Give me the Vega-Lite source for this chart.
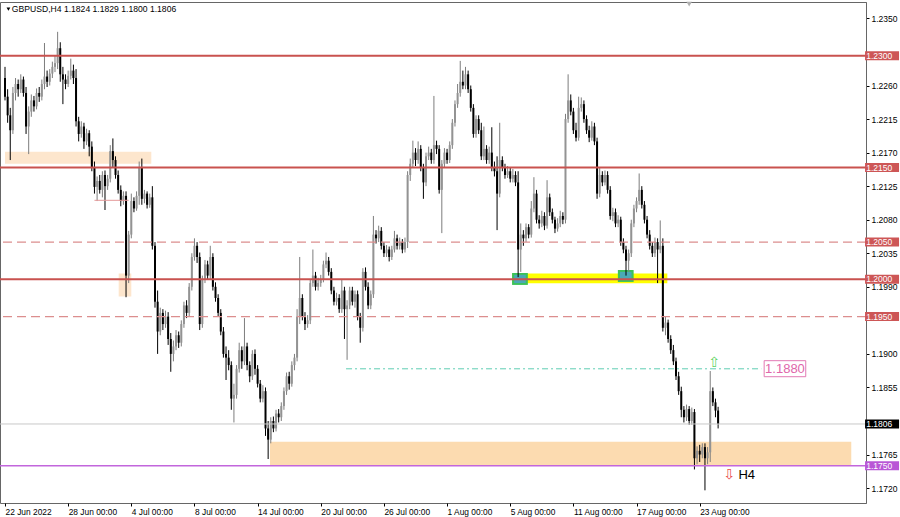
{
"$schema": "https://vega.github.io/schema/vega-lite/v6.json",
"width": 866, "height": 501,
"autosize": {"type": "none"},
"padding": {"left": 0, "top": 2, "right": 34, "bottom": 14},
"background": "#ffffff",
"config": {"view": {"stroke": "#666666", "strokeWidth": 1}, "axis": {"grid": false, "labelOverlap": false, "labelFlush": false, "labelFont": "Liberation Sans", "labelFontSize": 8.5, "labelColor": "#000000", "tickColor": "#000000", "domainColor": "#666666"}},
"datasets": {
"candles": [
{"i":0,"o":1.2270,"h":1.2285,"l":1.2240,"c":1.2245},
{"i":1,"o":1.2245,"h":1.2255,"l":1.2210,"c":1.2220},
{"i":2,"o":1.2220,"h":1.2230,"l":1.2160,"c":1.2200},
{"i":3,"o":1.2200,"h":1.2258,"l":1.2195,"c":1.2250},
{"i":4,"o":1.2250,"h":1.2270,"l":1.2240,"c":1.2262},
{"i":5,"o":1.2262,"h":1.2268,"l":1.2245,"c":1.2255},
{"i":6,"o":1.2255,"h":1.2275,"l":1.2250,"c":1.2268},
{"i":7,"o":1.2268,"h":1.2272,"l":1.2245,"c":1.2250},
{"i":8,"o":1.2250,"h":1.2258,"l":1.2195,"c":1.2205},
{"i":9,"o":1.2205,"h":1.2232,"l":1.2168,"c":1.2225},
{"i":10,"o":1.2225,"h":1.2248,"l":1.2218,"c":1.2240},
{"i":11,"o":1.2240,"h":1.2246,"l":1.2225,"c":1.2232},
{"i":12,"o":1.2232,"h":1.2256,"l":1.2228,"c":1.2250},
{"i":13,"o":1.2250,"h":1.2258,"l":1.2238,"c":1.2245},
{"i":14,"o":1.2245,"h":1.2268,"l":1.2240,"c":1.2262},
{"i":15,"o":1.2262,"h":1.2317,"l":1.2255,"c":1.2272},
{"i":16,"o":1.2272,"h":1.2280,"l":1.2258,"c":1.2265},
{"i":17,"o":1.2265,"h":1.2282,"l":1.2260,"c":1.2276},
{"i":18,"o":1.2276,"h":1.2292,"l":1.2270,"c":1.2285},
{"i":19,"o":1.2285,"h":1.2300,"l":1.2278,"c":1.2290},
{"i":20,"o":1.2290,"h":1.2332,"l":1.2282,"c":1.2310},
{"i":21,"o":1.2310,"h":1.2318,"l":1.2265,"c":1.2275},
{"i":22,"o":1.2275,"h":1.2285,"l":1.2235,"c":1.2268},
{"i":23,"o":1.2268,"h":1.2275,"l":1.2255,"c":1.2262},
{"i":24,"o":1.2262,"h":1.2280,"l":1.2258,"c":1.2273},
{"i":25,"o":1.2273,"h":1.2296,"l":1.2268,"c":1.2280},
{"i":26,"o":1.2280,"h":1.2288,"l":1.2262,"c":1.2270},
{"i":27,"o":1.2270,"h":1.2282,"l":1.2205,"c":1.2212},
{"i":28,"o":1.2212,"h":1.2218,"l":1.2185,"c":1.2195},
{"i":29,"o":1.2195,"h":1.2212,"l":1.2190,"c":1.2205},
{"i":30,"o":1.2205,"h":1.2210,"l":1.2175,"c":1.2185},
{"i":31,"o":1.2185,"h":1.2202,"l":1.2180,"c":1.2196},
{"i":32,"o":1.2196,"h":1.2200,"l":1.2165,"c":1.2178},
{"i":33,"o":1.2178,"h":1.2185,"l":1.2145,"c":1.2150},
{"i":34,"o":1.2150,"h":1.2158,"l":1.2115,"c":1.2124},
{"i":35,"o":1.2124,"h":1.2138,"l":1.2105,"c":1.2132},
{"i":36,"o":1.2132,"h":1.2140,"l":1.2115,"c":1.2120},
{"i":37,"o":1.2120,"h":1.2145,"l":1.2110,"c":1.2140},
{"i":38,"o":1.2140,"h":1.2146,"l":1.2093,"c":1.2125},
{"i":39,"o":1.2125,"h":1.2140,"l":1.2120,"c":1.2135},
{"i":40,"o":1.2135,"h":1.2180,"l":1.2130,"c":1.2172},
{"i":41,"o":1.2172,"h":1.2189,"l":1.2150,"c":1.2160},
{"i":42,"o":1.2160,"h":1.2165,"l":1.2135,"c":1.2140},
{"i":43,"o":1.2140,"h":1.2146,"l":1.2115,"c":1.2120},
{"i":44,"o":1.2120,"h":1.2126,"l":1.2098,"c":1.2105},
{"i":45,"o":1.2105,"h":1.2118,"l":1.2100,"c":1.2112},
{"i":46,"o":1.2112,"h":1.2118,"l":1.1976,"c":1.2005},
{"i":47,"o":1.2005,"h":1.2065,"l":1.1995,"c":1.2060},
{"i":48,"o":1.2060,"h":1.2115,"l":1.2055,"c":1.2105},
{"i":49,"o":1.2105,"h":1.2110,"l":1.2090,"c":1.2095},
{"i":50,"o":1.2095,"h":1.2118,"l":1.2092,"c":1.2112},
{"i":51,"o":1.2112,"h":1.2158,"l":1.2100,"c":1.2150},
{"i":52,"o":1.2150,"h":1.2162,"l":1.2100,"c":1.2108},
{"i":53,"o":1.2108,"h":1.2120,"l":1.2102,"c":1.2115},
{"i":54,"o":1.2115,"h":1.2118,"l":1.2095,"c":1.2100},
{"i":55,"o":1.2100,"h":1.2115,"l":1.2096,"c":1.2110},
{"i":56,"o":1.2110,"h":1.2125,"l":1.2040,"c":1.2045},
{"i":57,"o":1.2045,"h":1.2050,"l":1.1962,"c":1.1970},
{"i":58,"o":1.1970,"h":1.1985,"l":1.1900,"c":1.1930},
{"i":59,"o":1.1930,"h":1.1962,"l":1.1925,"c":1.1955},
{"i":60,"o":1.1955,"h":1.1960,"l":1.1932,"c":1.1940},
{"i":61,"o":1.1940,"h":1.1958,"l":1.1935,"c":1.1950},
{"i":62,"o":1.1950,"h":1.1956,"l":1.1912,"c":1.1920},
{"i":63,"o":1.1920,"h":1.1928,"l":1.1876,"c":1.1900},
{"i":64,"o":1.1900,"h":1.1918,"l":1.1890,"c":1.1910},
{"i":65,"o":1.1910,"h":1.1932,"l":1.1905,"c":1.1925},
{"i":66,"o":1.1925,"h":1.1930,"l":1.1908,"c":1.1915},
{"i":67,"o":1.1915,"h":1.1945,"l":1.1910,"c":1.1940},
{"i":68,"o":1.1940,"h":1.1970,"l":1.1935,"c":1.1965},
{"i":69,"o":1.1965,"h":1.1972,"l":1.1948,"c":1.1955},
{"i":70,"o":1.1955,"h":1.1995,"l":1.1950,"c":1.1990},
{"i":71,"o":1.1990,"h":1.2035,"l":1.1985,"c":1.2030},
{"i":72,"o":1.2030,"h":1.2055,"l":1.2025,"c":1.2045},
{"i":73,"o":1.2045,"h":1.2050,"l":1.2022,"c":1.2030},
{"i":74,"o":1.2030,"h":1.2036,"l":1.1932,"c":1.1940},
{"i":75,"o":1.1940,"h":1.2005,"l":1.1935,"c":1.2000},
{"i":76,"o":1.2000,"h":1.2026,"l":1.1995,"c":1.2020},
{"i":77,"o":1.2020,"h":1.2025,"l":1.2000,"c":1.2005},
{"i":78,"o":1.2005,"h":1.2045,"l":1.2000,"c":1.2030},
{"i":79,"o":1.2030,"h":1.2035,"l":1.1985,"c":1.1990},
{"i":80,"o":1.1990,"h":1.1996,"l":1.1970,"c":1.1975},
{"i":81,"o":1.1975,"h":1.1980,"l":1.1950,"c":1.1955},
{"i":82,"o":1.1955,"h":1.1960,"l":1.1925,"c":1.1930},
{"i":83,"o":1.1930,"h":1.1936,"l":1.1895,"c":1.1900},
{"i":84,"o":1.1900,"h":1.1910,"l":1.1865,"c":1.1895},
{"i":85,"o":1.1895,"h":1.1905,"l":1.1878,"c":1.1885},
{"i":86,"o":1.1885,"h":1.1890,"l":1.1825,"c":1.1840},
{"i":87,"o":1.1840,"h":1.1860,"l":1.1808,"c":1.1845},
{"i":88,"o":1.1845,"h":1.1885,"l":1.1840,"c":1.1880},
{"i":89,"o":1.1880,"h":1.1915,"l":1.1875,"c":1.1905},
{"i":90,"o":1.1905,"h":1.1910,"l":1.1880,"c":1.1890},
{"i":91,"o":1.1890,"h":1.1948,"l":1.1885,"c":1.1910},
{"i":92,"o":1.1910,"h":1.1915,"l":1.1878,"c":1.1885},
{"i":93,"o":1.1885,"h":1.1890,"l":1.1862,"c":1.1870},
{"i":94,"o":1.1870,"h":1.1905,"l":1.1865,"c":1.1900},
{"i":95,"o":1.1900,"h":1.1906,"l":1.1872,"c":1.1880},
{"i":96,"o":1.1880,"h":1.1885,"l":1.1855,"c":1.1860},
{"i":97,"o":1.1860,"h":1.1865,"l":1.1835,"c":1.1840},
{"i":98,"o":1.1840,"h":1.1858,"l":1.1835,"c":1.1850},
{"i":99,"o":1.1850,"h":1.1855,"l":1.1790,"c":1.1800},
{"i":100,"o":1.1800,"h":1.1810,"l":1.1759,"c":1.1785},
{"i":101,"o":1.1785,"h":1.1815,"l":1.1780,"c":1.1810},
{"i":102,"o":1.1810,"h":1.1816,"l":1.1795,"c":1.1800},
{"i":103,"o":1.1800,"h":1.1825,"l":1.1796,"c":1.1820},
{"i":104,"o":1.1820,"h":1.1826,"l":1.1808,"c":1.1815},
{"i":105,"o":1.1815,"h":1.1835,"l":1.1810,"c":1.1830},
{"i":106,"o":1.1830,"h":1.1855,"l":1.1825,"c":1.1850},
{"i":107,"o":1.1850,"h":1.1875,"l":1.1845,"c":1.1870},
{"i":108,"o":1.1870,"h":1.1876,"l":1.1852,"c":1.1860},
{"i":109,"o":1.1860,"h":1.1890,"l":1.1856,"c":1.1885},
{"i":110,"o":1.1885,"h":1.1900,"l":1.1878,"c":1.1895},
{"i":111,"o":1.1895,"h":1.1960,"l":1.1890,"c":1.1950},
{"i":112,"o":1.1950,"h":1.2030,"l":1.1940,"c":1.1975},
{"i":113,"o":1.1975,"h":1.1980,"l":1.1945,"c":1.1950},
{"i":114,"o":1.1950,"h":1.1956,"l":1.1932,"c":1.1940},
{"i":115,"o":1.1940,"h":1.1952,"l":1.1935,"c":1.1945},
{"i":116,"o":1.1945,"h":1.2000,"l":1.1940,"c":1.1995},
{"i":117,"o":1.1995,"h":1.2040,"l":1.1990,"c":1.2005},
{"i":118,"o":1.2005,"h":1.2010,"l":1.1985,"c":1.1990},
{"i":119,"o":1.1990,"h":1.2002,"l":1.1985,"c":1.1995},
{"i":120,"o":1.1995,"h":1.2006,"l":1.1990,"c":1.2000},
{"i":121,"o":1.2000,"h":1.2025,"l":1.1996,"c":1.2020},
{"i":122,"o":1.2020,"h":1.2036,"l":1.2015,"c":1.2025},
{"i":123,"o":1.2025,"h":1.2030,"l":1.2005,"c":1.2010},
{"i":124,"o":1.2010,"h":1.2015,"l":1.1980,"c":1.1985},
{"i":125,"o":1.1985,"h":1.1990,"l":1.1965,"c":1.1970},
{"i":126,"o":1.1970,"h":1.1982,"l":1.1965,"c":1.1975},
{"i":127,"o":1.1975,"h":1.1980,"l":1.1955,"c":1.1960},
{"i":128,"o":1.1960,"h":1.2000,"l":1.1955,"c":1.1985},
{"i":129,"o":1.1985,"h":1.1990,"l":1.1920,"c":1.1960},
{"i":130,"o":1.1960,"h":1.1972,"l":1.1892,"c":1.1965},
{"i":131,"o":1.1965,"h":1.1990,"l":1.1960,"c":1.1985},
{"i":132,"o":1.1985,"h":1.1990,"l":1.1965,"c":1.1970},
{"i":133,"o":1.1970,"h":1.1985,"l":1.1962,"c":1.1980},
{"i":134,"o":1.1980,"h":1.1985,"l":1.1945,"c":1.1950},
{"i":135,"o":1.1950,"h":1.1955,"l":1.1915,"c":1.1935},
{"i":136,"o":1.1935,"h":1.2015,"l":1.1930,"c":1.2010},
{"i":137,"o":1.2010,"h":1.2016,"l":1.1985,"c":1.1990},
{"i":138,"o":1.1990,"h":1.1996,"l":1.1960,"c":1.1965},
{"i":139,"o":1.1965,"h":1.1985,"l":1.1960,"c":1.1980},
{"i":140,"o":1.1980,"h":1.2085,"l":1.1975,"c":1.2060},
{"i":141,"o":1.2060,"h":1.2066,"l":1.2048,"c":1.2055},
{"i":142,"o":1.2055,"h":1.2072,"l":1.2050,"c":1.2065},
{"i":143,"o":1.2065,"h":1.2070,"l":1.2040,"c":1.2045},
{"i":144,"o":1.2045,"h":1.2050,"l":1.2030,"c":1.2035},
{"i":145,"o":1.2035,"h":1.2046,"l":1.2030,"c":1.2040},
{"i":146,"o":1.2040,"h":1.2044,"l":1.2024,"c":1.2030},
{"i":147,"o":1.2030,"h":1.2045,"l":1.2026,"c":1.2040},
{"i":148,"o":1.2040,"h":1.2065,"l":1.2036,"c":1.2055},
{"i":149,"o":1.2055,"h":1.2060,"l":1.2040,"c":1.2045},
{"i":150,"o":1.2045,"h":1.2056,"l":1.2040,"c":1.2050},
{"i":151,"o":1.2050,"h":1.2054,"l":1.2035,"c":1.2040},
{"i":152,"o":1.2040,"h":1.2056,"l":1.2036,"c":1.2050},
{"i":153,"o":1.2050,"h":1.2145,"l":1.2042,"c":1.2140},
{"i":154,"o":1.2140,"h":1.2162,"l":1.2132,"c":1.2155},
{"i":155,"o":1.2155,"h":1.2186,"l":1.2150,"c":1.2170},
{"i":156,"o":1.2170,"h":1.2176,"l":1.2152,"c":1.2160},
{"i":157,"o":1.2160,"h":1.2185,"l":1.2155,"c":1.2175},
{"i":158,"o":1.2175,"h":1.2180,"l":1.2145,"c":1.2150},
{"i":159,"o":1.2150,"h":1.2155,"l":1.2108,"c":1.2130},
{"i":160,"o":1.2130,"h":1.2170,"l":1.2125,"c":1.2165},
{"i":161,"o":1.2165,"h":1.2178,"l":1.2160,"c":1.2170},
{"i":162,"o":1.2170,"h":1.2175,"l":1.2155,"c":1.2160},
{"i":163,"o":1.2160,"h":1.2246,"l":1.2155,"c":1.2180},
{"i":164,"o":1.2180,"h":1.2186,"l":1.2168,"c":1.2175},
{"i":165,"o":1.2175,"h":1.2180,"l":1.2115,"c":1.2120},
{"i":166,"o":1.2120,"h":1.2160,"l":1.2062,"c":1.2155},
{"i":167,"o":1.2155,"h":1.2176,"l":1.2150,"c":1.2170},
{"i":168,"o":1.2170,"h":1.2175,"l":1.2155,"c":1.2160},
{"i":169,"o":1.2160,"h":1.2185,"l":1.2156,"c":1.2180},
{"i":170,"o":1.2180,"h":1.2215,"l":1.2175,"c":1.2210},
{"i":171,"o":1.2210,"h":1.2240,"l":1.2205,"c":1.2235},
{"i":172,"o":1.2235,"h":1.2262,"l":1.2230,"c":1.2250},
{"i":173,"o":1.2250,"h":1.2293,"l":1.2245,"c":1.2265},
{"i":174,"o":1.2265,"h":1.2280,"l":1.2255,"c":1.2260},
{"i":175,"o":1.2260,"h":1.2285,"l":1.2255,"c":1.2275},
{"i":176,"o":1.2275,"h":1.2280,"l":1.2250,"c":1.2255},
{"i":177,"o":1.2255,"h":1.2260,"l":1.2225,"c":1.2230},
{"i":178,"o":1.2230,"h":1.2235,"l":1.2190,"c":1.2195},
{"i":179,"o":1.2195,"h":1.2220,"l":1.2190,"c":1.2215},
{"i":180,"o":1.2215,"h":1.2220,"l":1.2195,"c":1.2200},
{"i":181,"o":1.2200,"h":1.2210,"l":1.2160,"c":1.2165},
{"i":182,"o":1.2165,"h":1.2205,"l":1.2160,"c":1.2175},
{"i":183,"o":1.2175,"h":1.2180,"l":1.2155,"c":1.2160},
{"i":184,"o":1.2160,"h":1.2178,"l":1.2155,"c":1.2170},
{"i":185,"o":1.2170,"h":1.2204,"l":1.2145,"c":1.2150},
{"i":186,"o":1.2150,"h":1.2158,"l":1.2138,"c":1.2145},
{"i":187,"o":1.2145,"h":1.2165,"l":1.2066,"c":1.2115},
{"i":188,"o":1.2115,"h":1.2210,"l":1.2110,"c":1.2160},
{"i":189,"o":1.2160,"h":1.2165,"l":1.2145,"c":1.2150},
{"i":190,"o":1.2150,"h":1.2155,"l":1.2135,"c":1.2140},
{"i":191,"o":1.2140,"h":1.2152,"l":1.2136,"c":1.2145},
{"i":192,"o":1.2145,"h":1.2150,"l":1.2130,"c":1.2135},
{"i":193,"o":1.2135,"h":1.2148,"l":1.2130,"c":1.2140},
{"i":194,"o":1.2140,"h":1.2145,"l":1.2125,"c":1.2130},
{"i":195,"o":1.2130,"h":1.2145,"l":1.2003,"c":1.2040},
{"i":196,"o":1.2040,"h":1.2075,"l":1.2010,"c":1.2060},
{"i":197,"o":1.2060,"h":1.2066,"l":1.2045,"c":1.2055},
{"i":198,"o":1.2055,"h":1.2075,"l":1.2050,"c":1.2070},
{"i":199,"o":1.2070,"h":1.2074,"l":1.2055,"c":1.2060},
{"i":200,"o":1.2060,"h":1.2105,"l":1.2056,"c":1.2095},
{"i":201,"o":1.2095,"h":1.2137,"l":1.2090,"c":1.2115},
{"i":202,"o":1.2115,"h":1.2120,"l":1.2075,"c":1.2080},
{"i":203,"o":1.2080,"h":1.2086,"l":1.2068,"c":1.2075},
{"i":204,"o":1.2075,"h":1.2092,"l":1.2070,"c":1.2085},
{"i":205,"o":1.2085,"h":1.2090,"l":1.2066,"c":1.2072},
{"i":206,"o":1.2072,"h":1.2133,"l":1.2068,"c":1.2110},
{"i":207,"o":1.2110,"h":1.2115,"l":1.2085,"c":1.2090},
{"i":208,"o":1.2090,"h":1.2095,"l":1.2075,"c":1.2080},
{"i":209,"o":1.2080,"h":1.2084,"l":1.2062,"c":1.2068},
{"i":210,"o":1.2068,"h":1.2082,"l":1.2064,"c":1.2075},
{"i":211,"o":1.2075,"h":1.2092,"l":1.2070,"c":1.2085},
{"i":212,"o":1.2085,"h":1.2090,"l":1.2074,"c":1.2080},
{"i":213,"o":1.2080,"h":1.2222,"l":1.2075,"c":1.2215},
{"i":214,"o":1.2215,"h":1.2275,"l":1.2210,"c":1.2240},
{"i":215,"o":1.2240,"h":1.2248,"l":1.2220,"c":1.2225},
{"i":216,"o":1.2225,"h":1.2230,"l":1.2195,"c":1.2200},
{"i":217,"o":1.2200,"h":1.2210,"l":1.2185,"c":1.2190},
{"i":218,"o":1.2190,"h":1.2245,"l":1.2186,"c":1.2230},
{"i":219,"o":1.2230,"h":1.2244,"l":1.2225,"c":1.2235},
{"i":220,"o":1.2235,"h":1.2240,"l":1.2210,"c":1.2215},
{"i":221,"o":1.2215,"h":1.2220,"l":1.2195,"c":1.2200},
{"i":222,"o":1.2200,"h":1.2206,"l":1.2184,"c":1.2190},
{"i":223,"o":1.2190,"h":1.2212,"l":1.2186,"c":1.2205},
{"i":224,"o":1.2205,"h":1.2210,"l":1.2180,"c":1.2185},
{"i":225,"o":1.2185,"h":1.2190,"l":1.2108,"c":1.2115},
{"i":226,"o":1.2115,"h":1.2150,"l":1.2110,"c":1.2140},
{"i":227,"o":1.2140,"h":1.2145,"l":1.2125,"c":1.2130},
{"i":228,"o":1.2130,"h":1.2146,"l":1.2126,"c":1.2140},
{"i":229,"o":1.2140,"h":1.2145,"l":1.2115,"c":1.2120},
{"i":230,"o":1.2120,"h":1.2125,"l":1.2080,"c":1.2085},
{"i":231,"o":1.2085,"h":1.2096,"l":1.2078,"c":1.2090},
{"i":232,"o":1.2090,"h":1.2095,"l":1.2070,"c":1.2075},
{"i":233,"o":1.2075,"h":1.2086,"l":1.2070,"c":1.2080},
{"i":234,"o":1.2080,"h":1.2084,"l":1.2045,"c":1.2050},
{"i":235,"o":1.2050,"h":1.2055,"l":1.2035,"c":1.2040},
{"i":236,"o":1.2040,"h":1.2045,"l":1.2005,"c":1.2025},
{"i":237,"o":1.2025,"h":1.2040,"l":1.2010,"c":1.2035},
{"i":238,"o":1.2035,"h":1.2080,"l":1.2030,"c":1.2075},
{"i":239,"o":1.2075,"h":1.2100,"l":1.2070,"c":1.2095},
{"i":240,"o":1.2095,"h":1.2110,"l":1.2090,"c":1.2105},
{"i":241,"o":1.2105,"h":1.2142,"l":1.2100,"c":1.2120},
{"i":242,"o":1.2120,"h":1.2125,"l":1.2095,"c":1.2100},
{"i":243,"o":1.2100,"h":1.2105,"l":1.2075,"c":1.2080},
{"i":244,"o":1.2080,"h":1.2085,"l":1.2055,"c":1.2060},
{"i":245,"o":1.2060,"h":1.2066,"l":1.2040,"c":1.2045},
{"i":246,"o":1.2045,"h":1.2050,"l":1.2030,"c":1.2035},
{"i":247,"o":1.2035,"h":1.2056,"l":1.2030,"c":1.2050},
{"i":248,"o":1.2050,"h":1.2055,"l":1.1995,"c":1.2040},
{"i":249,"o":1.2040,"h":1.2079,"l":1.2035,"c":1.2045},
{"i":250,"o":1.2045,"h":1.2055,"l":1.1930,"c":1.1935},
{"i":251,"o":1.1935,"h":1.1950,"l":1.1925,"c":1.1942},
{"i":252,"o":1.1942,"h":1.1946,"l":1.1915,"c":1.1920},
{"i":253,"o":1.1920,"h":1.1925,"l":1.1900,"c":1.1905},
{"i":254,"o":1.1905,"h":1.1912,"l":1.1885,"c":1.1890},
{"i":255,"o":1.1890,"h":1.1895,"l":1.1865,"c":1.1870},
{"i":256,"o":1.1870,"h":1.1876,"l":1.1845,"c":1.1850},
{"i":257,"o":1.1850,"h":1.1856,"l":1.1815,"c":1.1825},
{"i":258,"o":1.1825,"h":1.1830,"l":1.1808,"c":1.1815},
{"i":259,"o":1.1815,"h":1.1832,"l":1.1810,"c":1.1826},
{"i":260,"o":1.1826,"h":1.1830,"l":1.1805,"c":1.1810},
{"i":261,"o":1.1810,"h":1.1828,"l":1.1805,"c":1.1822},
{"i":262,"o":1.1822,"h":1.1826,"l":1.1745,"c":1.1760},
{"i":263,"o":1.1760,"h":1.1776,"l":1.1752,"c":1.1770},
{"i":264,"o":1.1770,"h":1.1778,"l":1.1755,"c":1.1765},
{"i":265,"o":1.1765,"h":1.1780,"l":1.1760,"c":1.1775},
{"i":266,"o":1.1775,"h":1.1780,"l":1.1717,"c":1.1760},
{"i":267,"o":1.1760,"h":1.1775,"l":1.1752,"c":1.1768},
{"i":268,"o":1.1768,"h":1.1877,"l":1.1755,"c":1.1850},
{"i":269,"o":1.1850,"h":1.1855,"l":1.1830,"c":1.1835},
{"i":270,"o":1.1835,"h":1.1840,"l":1.1815,"c":1.1824},
{"i":271,"o":1.1824,"h":1.1829,"l":1.1800,"c":1.1806}
],
"zonesLight": [{"from":0,"to":55.6,"top":1.2171,"bottom":1.2155},{"from":43.2,"to":48.0,"top":1.2008,"bottom":1.1977}],
"zoneBig": [{"from":100.7,"to":321.6,"top":1.1782,"bottom":1.1751}],
"yellow": [{"from":192.7,"to":251.7,"top":1.2008,"bottom":1.19947}],
"squares": [{"from":192.7,"to":198.7,"top":1.20085,"bottom":1.19925},{"from":232.9,"to":238.9,"top":1.20125,"bottom":1.19965}],
"squaresInner": [{"from":193.5,"to":197.9,"top":1.2006,"bottom":1.1995},{"from":233.7,"to":238.1,"top":1.2010,"bottom":1.1999}],
"thinRed": [{"from":34,"to":47,"p":1.2106}],
"solidLevels": [{"p":1.2300},{"p":1.2150},{"p":1.2000}],
"dashedLevels": [{"p":1.2050},{"p":1.1950}],
"redBoxes": [{"p":1.2300,"t":"1.2300"},{"p":1.2150,"t":"1.2150"},{"p":1.2050,"t":"1.2050"},{"p":1.2000,"t":"1.2000"},{"p":1.1950,"t":"1.1950"}],
"purpleBox": [{"p":1.1750,"t":"1.1750"}],
"blackBox": [{"p":1.1806,"t":"1.1806"}],
"tealLine": [{"from":129.6,"to":287.4,"p":1.1880}],
"pinkBox": [{"from":288.5,"to":304.3,"top":1.18909,"bottom":1.18694,"p":1.1880,"mid":296.4,"t":"1.1880"}],
"upArrow": [{"i":269.5,"p":1.1888,"t":"⇧"}],
"downArrow": [{"i":275.2,"p":1.1738,"t":"⇩"}],
"h4": [{"i":278.7,"p":1.1738,"t":"H4"}],
"title": [{"i":2.6,"p":1.23626,"t":"GBPUSD,H4  1.1824 1.1829 1.1800 1.1806"}],
"titleTri": [{"i":1.3,"p":1.23626}],
"topTri": [{"i":260,"p":1.23690}]
},
"layer": [
{"data": {"name": "zonesLight"}, "mark": {"type": "rect", "color": "#fde6cd"},
 "encoding": {"x": {"field": "from", "type": "quantitative", "scale": {"domain": [0, 325.3], "nice": false, "zero": false}, "title": null}, "x2": {"field": "to"},
  "y": {"field": "top", "type": "quantitative", "scale": {"domain": [1.17, 1.2372], "nice": false, "zero": false}, "title": null}, "y2": {"field": "bottom"}}},
{"data": {"name": "zoneBig"}, "mark": {"type": "rect", "color": "#fcdbb0"},
 "encoding": {"x": {"field": "from", "type": "quantitative", "scale": {"domain": [0, 325.3], "nice": false, "zero": false}, "title": null}, "x2": {"field": "to"},
  "y": {"field": "top", "type": "quantitative", "scale": {"domain": [1.17, 1.2372], "nice": false, "zero": false}, "title": null}, "y2": {"field": "bottom"}}},
{"data": {"name": "yellow"}, "mark": {"type": "rect", "color": "#ffff00"},
 "encoding": {"x": {"field": "from", "type": "quantitative", "scale": {"domain": [0, 325.3], "nice": false, "zero": false}, "title": null}, "x2": {"field": "to"},
  "y": {"field": "top", "type": "quantitative", "scale": {"domain": [1.17, 1.2372], "nice": false, "zero": false}, "title": null}, "y2": {"field": "bottom"}}},
{"data": {"name": "squares"}, "mark": {"type": "rect", "color": "#3cc25a"},
 "encoding": {"x": {"field": "from", "type": "quantitative", "scale": {"domain": [0, 325.3], "nice": false, "zero": false}, "title": null}, "x2": {"field": "to"},
  "y": {"field": "top", "type": "quantitative", "scale": {"domain": [1.17, 1.2372], "nice": false, "zero": false}, "title": null}, "y2": {"field": "bottom"}}},
{"data": {"name": "squaresInner"}, "mark": {"type": "rect", "color": "#4aa9b6"},
 "encoding": {"x": {"field": "from", "type": "quantitative", "scale": {"domain": [0, 325.3], "nice": false, "zero": false}, "title": null}, "x2": {"field": "to"},
  "y": {"field": "top", "type": "quantitative", "scale": {"domain": [1.17, 1.2372], "nice": false, "zero": false}, "title": null}, "y2": {"field": "bottom"}}},
{"data": {"name": "candles"}, "mark": {"type": "rule", "strokeWidth": 1},
 "encoding": {"x": {"field": "i", "type": "quantitative", "scale": {"domain": [0, 325.3], "nice": false, "zero": false}, "title": null},
  "y": {"field": "l", "type": "quantitative", "scale": {"domain": [1.17, 1.2372], "nice": false, "zero": false}, "title": null}, "y2": {"field": "h"},
  "color": {"condition": {"test": "datum.c < datum.o", "value": "#000000"}, "value": "#7d7d7d"}}},
{"data": {"name": "candles"}, "mark": {"type": "bar", "width": 2},
 "encoding": {"x": {"field": "i", "type": "quantitative", "scale": {"domain": [0, 325.3], "nice": false, "zero": false}, "title": null,
   "axis": {"values": [0, 24, 48, 72, 96, 120, 144, 168, 192, 216, 240, 264], "labelExpr": "['22 Jun 2022','28 Jun 00:00','4 Jul 00:00','8 Jul 00:00','14 Jul 00:00','20 Jul 00:00','26 Jul 00:00','1 Aug 00:00','5 Aug 00:00','11 Aug 00:00','17 Aug 00:00','23 Aug 00:00'][round(datum.value/24)]", "labelAlign": "left", "labelBaseline": "top", "labelPadding": 1, "tickSize": 3, "domain": false, "labelFontSize": 8.4, "labelFlush": false, "labelOverlap": false}},
  "y": {"field": "o", "type": "quantitative", "scale": {"domain": [1.17, 1.2372], "nice": false, "zero": false}, "title": null,
   "axis": {"orient": "right", "values": [1.172, 1.1765, 1.1855, 1.19, 1.199, 1.2035, 1.208, 1.2125, 1.217, 1.2215, 1.226, 1.235], "format": ".4f", "tickSize": 3, "labelPadding": 2, "domain": true, "labelFlush": false, "labelOverlap": false}},
  "y2": {"field": "c"},
  "color": {"condition": {"test": "datum.c < datum.o", "value": "#000000"}, "value": "#939393"}}},
{"data": {"name": "thinRed"}, "mark": {"type": "rule", "color": "#e59a9a", "strokeWidth": 1},
 "encoding": {"x": {"field": "from", "type": "quantitative", "scale": {"domain": [0, 325.3], "nice": false, "zero": false}, "title": null}, "x2": {"field": "to"},
  "y": {"field": "p", "type": "quantitative", "scale": {"domain": [1.17, 1.2372], "nice": false, "zero": false}, "title": null}}},
{"data": {"name": "solidLevels"}, "mark": {"type": "rule", "color": "#c9524f", "strokeWidth": 2},
 "encoding": {"y": {"field": "p", "type": "quantitative", "scale": {"domain": [1.17, 1.2372], "nice": false, "zero": false}, "title": null}}},
{"data": {"name": "dashedLevels"}, "mark": {"type": "rule", "color": "#dc8e8e", "strokeWidth": 1.3, "strokeDash": [9, 5]},
 "encoding": {"y": {"field": "p", "type": "quantitative", "scale": {"domain": [1.17, 1.2372], "nice": false, "zero": false}, "title": null}}},
{"data": {"name": "purpleBox"}, "mark": {"type": "rule", "color": "#c266dc", "strokeWidth": 1.6},
 "encoding": {"y": {"field": "p", "type": "quantitative", "scale": {"domain": [1.17, 1.2372], "nice": false, "zero": false}, "title": null}}},
{"data": {"name": "blackBox"}, "mark": {"type": "rule", "color": "#c8c8c8", "strokeWidth": 1},
 "encoding": {"y": {"field": "p", "type": "quantitative", "scale": {"domain": [1.17, 1.2372], "nice": false, "zero": false}, "title": null}}},
{"data": {"name": "tealLine"}, "mark": {"type": "rule", "color": "#5ecdb3", "strokeWidth": 1, "strokeDash": [6, 3, 2, 3]},
 "encoding": {"x": {"field": "from", "type": "quantitative", "scale": {"domain": [0, 325.3], "nice": false, "zero": false}, "title": null}, "x2": {"field": "to"},
  "y": {"field": "p", "type": "quantitative", "scale": {"domain": [1.17, 1.2372], "nice": false, "zero": false}, "title": null}}},
{"data": {"name": "redBoxes"}, "mark": {"type": "tick", "orient": "horizontal", "size": 34, "thickness": 9, "color": "#cd5656", "opacity": 1},
 "encoding": {"x": {"datum": 333.3, "type": "quantitative", "scale": {"domain": [0, 325.3], "nice": false, "zero": false}, "title": null},
  "y": {"field": "p", "type": "quantitative", "scale": {"domain": [1.17, 1.2372], "nice": false, "zero": false}, "title": null}}},
{"data": {"name": "purpleBox"}, "mark": {"type": "tick", "orient": "horizontal", "size": 34, "thickness": 9, "color": "#b957d6", "opacity": 1},
 "encoding": {"x": {"datum": 333.3, "type": "quantitative", "scale": {"domain": [0, 325.3], "nice": false, "zero": false}, "title": null},
  "y": {"field": "p", "type": "quantitative", "scale": {"domain": [1.17, 1.2372], "nice": false, "zero": false}, "title": null}}},
{"data": {"name": "blackBox"}, "mark": {"type": "tick", "orient": "horizontal", "size": 34, "thickness": 9, "color": "#000000", "opacity": 1},
 "encoding": {"x": {"datum": 333.3, "type": "quantitative", "scale": {"domain": [0, 325.3], "nice": false, "zero": false}, "title": null},
  "y": {"field": "p", "type": "quantitative", "scale": {"domain": [1.17, 1.2372], "nice": false, "zero": false}, "title": null}}},
{"data": {"name": "redBoxes"}, "mark": {"type": "text", "align": "left", "baseline": "middle", "font": "Liberation Sans", "fontSize": 8.5, "color": "#ffffff"},
 "encoding": {"x": {"datum": 327.3, "type": "quantitative", "scale": {"domain": [0, 325.3], "nice": false, "zero": false}, "title": null},
  "y": {"field": "p", "type": "quantitative", "scale": {"domain": [1.17, 1.2372], "nice": false, "zero": false}, "title": null}, "text": {"field": "t"}}},
{"data": {"name": "purpleBox"}, "mark": {"type": "text", "align": "left", "baseline": "middle", "font": "Liberation Sans", "fontSize": 8.5, "color": "#ffffff"},
 "encoding": {"x": {"datum": 327.3, "type": "quantitative", "scale": {"domain": [0, 325.3], "nice": false, "zero": false}, "title": null},
  "y": {"field": "p", "type": "quantitative", "scale": {"domain": [1.17, 1.2372], "nice": false, "zero": false}, "title": null}, "text": {"field": "t"}}},
{"data": {"name": "blackBox"}, "mark": {"type": "text", "align": "left", "baseline": "middle", "font": "Liberation Sans", "fontSize": 8.5, "color": "#ffffff"},
 "encoding": {"x": {"datum": 327.3, "type": "quantitative", "scale": {"domain": [0, 325.3], "nice": false, "zero": false}, "title": null},
  "y": {"field": "p", "type": "quantitative", "scale": {"domain": [1.17, 1.2372], "nice": false, "zero": false}, "title": null}, "text": {"field": "t"}}},
{"data": {"name": "pinkBox"}, "mark": {"type": "rect", "fill": "#ffffff", "stroke": "#e27ab4", "strokeWidth": 1},
 "encoding": {"x": {"field": "from", "type": "quantitative", "scale": {"domain": [0, 325.3], "nice": false, "zero": false}, "title": null}, "x2": {"field": "to"},
  "y": {"field": "top", "type": "quantitative", "scale": {"domain": [1.17, 1.2372], "nice": false, "zero": false}, "title": null}, "y2": {"field": "bottom"}}},
{"data": {"name": "pinkBox"}, "mark": {"type": "text", "align": "center", "baseline": "middle", "font": "Liberation Sans", "fontSize": 13, "color": "#e066aa"},
 "encoding": {"x": {"field": "mid", "type": "quantitative", "scale": {"domain": [0, 325.3], "nice": false, "zero": false}, "title": null},
  "y": {"field": "p", "type": "quantitative", "scale": {"domain": [1.17, 1.2372], "nice": false, "zero": false}, "title": null}, "text": {"field": "t"}}},
{"data": {"name": "upArrow"}, "mark": {"type": "text", "align": "center", "baseline": "middle", "font": "DejaVu Sans", "fontSize": 14, "color": "#5fd35f"},
 "encoding": {"x": {"field": "i", "type": "quantitative", "scale": {"domain": [0, 325.3], "nice": false, "zero": false}, "title": null},
  "y": {"field": "p", "type": "quantitative", "scale": {"domain": [1.17, 1.2372], "nice": false, "zero": false}, "title": null}, "text": {"field": "t"}}},
{"data": {"name": "downArrow"}, "mark": {"type": "text", "align": "center", "baseline": "middle", "font": "DejaVu Sans", "fontSize": 14, "color": "#e84a4a"},
 "encoding": {"x": {"field": "i", "type": "quantitative", "scale": {"domain": [0, 325.3], "nice": false, "zero": false}, "title": null},
  "y": {"field": "p", "type": "quantitative", "scale": {"domain": [1.17, 1.2372], "nice": false, "zero": false}, "title": null}, "text": {"field": "t"}}},
{"data": {"name": "h4"}, "mark": {"type": "text", "align": "left", "baseline": "middle", "font": "Liberation Sans", "fontSize": 13, "color": "#000000"},
 "encoding": {"x": {"field": "i", "type": "quantitative", "scale": {"domain": [0, 325.3], "nice": false, "zero": false}, "title": null},
  "y": {"field": "p", "type": "quantitative", "scale": {"domain": [1.17, 1.2372], "nice": false, "zero": false}, "title": null}, "text": {"field": "t"}}},
{"data": {"name": "title"}, "mark": {"type": "text", "align": "left", "baseline": "middle", "font": "Liberation Sans", "fontSize": 8.6, "color": "#000000"},
 "encoding": {"x": {"field": "i", "type": "quantitative", "scale": {"domain": [0, 325.3], "nice": false, "zero": false}, "title": null},
  "y": {"field": "p", "type": "quantitative", "scale": {"domain": [1.17, 1.2372], "nice": false, "zero": false}, "title": null}, "text": {"field": "t"}}},
{"data": {"name": "titleTri"}, "mark": {"type": "point", "shape": "triangle-down", "filled": true, "size": 14, "color": "#000000", "opacity": 1},
 "encoding": {"x": {"field": "i", "type": "quantitative", "scale": {"domain": [0, 325.3], "nice": false, "zero": false}, "title": null},
  "y": {"field": "p", "type": "quantitative", "scale": {"domain": [1.17, 1.2372], "nice": false, "zero": false}, "title": null}}},
{"data": {"name": "topTri"}, "mark": {"type": "point", "shape": "triangle-down", "filled": true, "size": 30, "color": "#b0b0b0", "opacity": 1},
 "encoding": {"x": {"field": "i", "type": "quantitative", "scale": {"domain": [0, 325.3], "nice": false, "zero": false}, "title": null},
  "y": {"field": "p", "type": "quantitative", "scale": {"domain": [1.17, 1.2372], "nice": false, "zero": false}, "title": null}}}
]
}
